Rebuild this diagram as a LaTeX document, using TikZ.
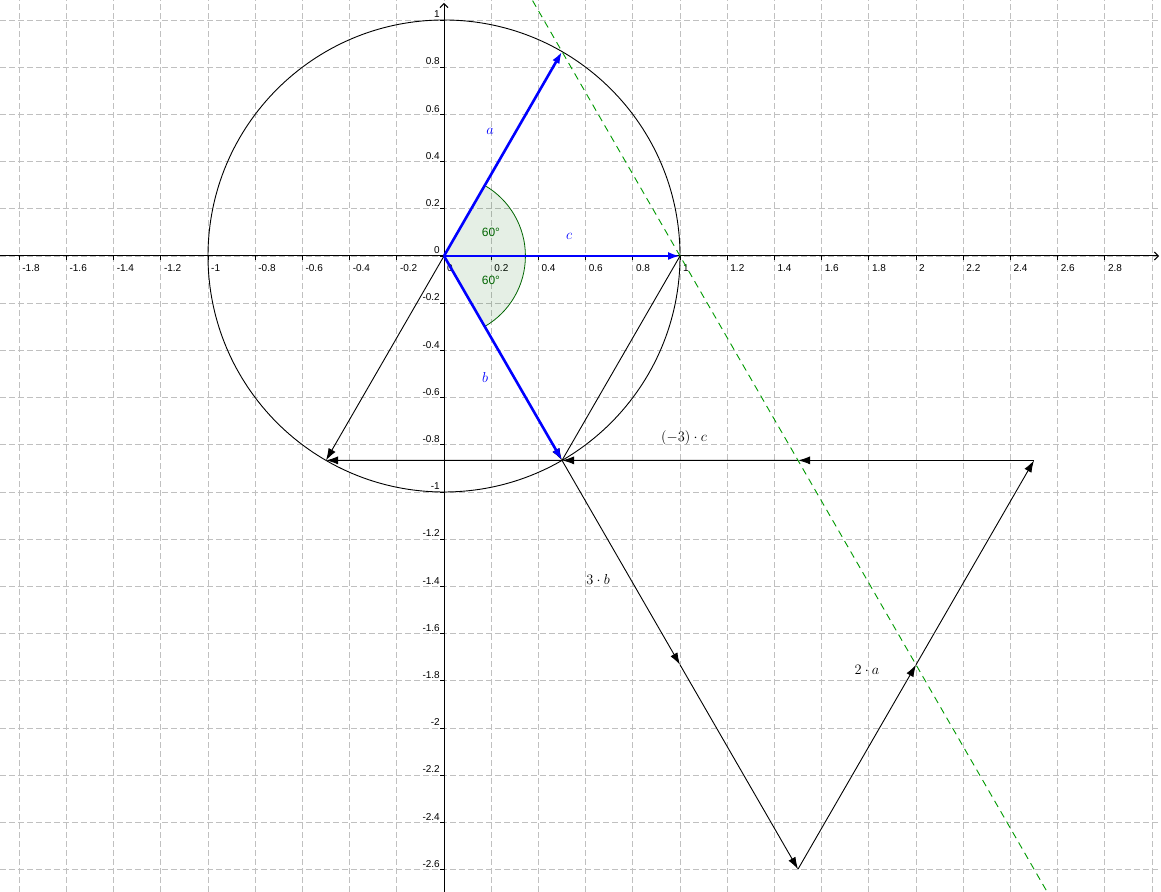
\documentclass[tikz,border=0pt]{standalone}
\usepackage{fontspec}
\newfontfamily\axisfont{Liberation Sans}
\usetikzlibrary{arrows.meta,calc}
\definecolor{gridgray}{RGB}{192,192,192}
\definecolor{anglegreen}{RGB}{0,100,0}
\definecolor{linegreen}{RGB}{0,153,0}

\begin{document}
\begin{tikzpicture}[x=236pt, y=236pt,
    vecB/.style={blue, line width=2.6pt, -{Latex[length=12pt,width=8pt]}},
    vecK/.style={black, line width=0.9pt, -{Latex[length=12pt,width=8pt]}},
    ticklbl/.style={inner sep=0pt, font=\axisfont\fontsize{10}{11}\selectfont},
    mathlbl/.style={inner sep=0pt, font=\fontsize{14.5}{17}\selectfont},
    anglelbl/.style={inner sep=0pt, anglegreen, font=\axisfont\fontsize{12}{14}\selectfont}]
    \useasboundingbox (-1.8814,-2.6949) rectangle (3.0381,1.0847);
    \clip (-1.8814,-2.6949) rectangle (3.0381,1.0847);

    % grid
    \draw[gridgray, line width=0.8pt, dash pattern=on 6pt off 3pt]
        \foreach \x in {-1.8,-1.6,...,3.01} {(\x,-2.6949) -- (\x,1.0847)}
        \foreach \y in {-2.6,-2.4,...,1.01} {(-1.8814,\y) -- (3.0381,\y)};

    % axes
    \draw[line width=1pt, -{Straight Barb[length=4pt,width=8pt]}] (-1.8814,0) -- (3.03,0);
    \draw[line width=1pt, -{Straight Barb[length=4pt,width=8pt]}] (0,-2.6949) -- (0,1.072);
    \foreach \x [count=\i] in {-1.8,-1.6,-1.4,-1.2,-1,-0.8,-0.6,-0.4,-0.2,0,0.2,0.4,0.6,0.8,1,1.2,1.4,1.6,1.8,2,2.2,2.4,2.6,2.8} {
        \draw[line width=0.8pt] (\x,0) -- ++(0,-4pt);
        \node[ticklbl, anchor=north west, xshift=3pt, yshift=-8pt] (xl\i) at (\x,0) {\x};
    }
    \foreach \y [count=\i] in {1,0.8,0.6,0.4,0.2,0,-0.2,-0.4,-0.6,-0.8,-1,-1.2,-1.4,-1.6,-1.8,-2,-2.2,-2.4,-2.6} {
        \draw[line width=0.8pt] (0,\y) -- ++(-4pt,0);
        \node[ticklbl, anchor=south east, xshift=-4pt, yshift=2pt] (yl\i) at (0,\y) {\y};
    }

    % points
    \coordinate (O) at (0,0);
    \coordinate (A) at (60:1);
    \coordinate (B) at (-60:1);
    \coordinate (C) at (1,0);
    \coordinate (B2) at (1,-1.7321);
    \coordinate (P) at (1.5,-2.5981);
    \coordinate (A2) at (2,-1.7321);
    \coordinate (Q) at (2.5,-0.8660);
    \coordinate (C1) at (1.5,-0.8660);
    \coordinate (R) at (-0.5,-0.8660);

    \draw[line width=0.9pt] (O) circle (1);

    % 60 degree sectors
    \filldraw[draw=anglegreen, fill=anglegreen, fill opacity=0.1, line width=0.8pt]
        (O) -- (0.345,0) arc (0:60:0.345) -- cycle;
    \filldraw[draw=anglegreen, fill=anglegreen, fill opacity=0.1, line width=0.8pt]
        (O) -- (0.345,0) arc (0:-60:0.345) -- cycle;
    \node[anglelbl] (ang1) at (0.199,0.099) {60°};
    \node[anglelbl] (ang2) at (0.199,-0.105) {60°};

    % 3b, 2a, (-3)c one unit at a time
    \foreach \s/\e in {O/B, B/B2, B2/P, P/A2, A2/Q, Q/C1, C1/B, B/R, O/R}
        \draw[vecK] (\s) -- (\e);
    \draw[line width=0.9pt] (C) -- (B);

    \draw[linegreen, line width=0.9pt, dash pattern=on 7pt off 5pt] ($(A)!-0.3!(C)$) -- ($(A)!4.2!(C)$);

    \foreach \e in {A,B,C}
        \draw[vecB] (O) -- (\e);

    \node[mathlbl, blue] (la) at (0.195,0.530) {$a$};
    \node[mathlbl, blue] (lc) at (0.530,0.085) {$c$};
    \node[mathlbl, blue] (lb) at (0.174,-0.517) {$b$};
    \node[mathlbl] (l3b) at (0.653,-1.369) {$3\cdot b$};
    \node[mathlbl] (l2a) at (1.792,-1.754) {$2\cdot a$};
    \node[mathlbl] (l3c) at (1.017,-0.772) {$(-3)\cdot c$};
\end{tikzpicture}
\end{document}
